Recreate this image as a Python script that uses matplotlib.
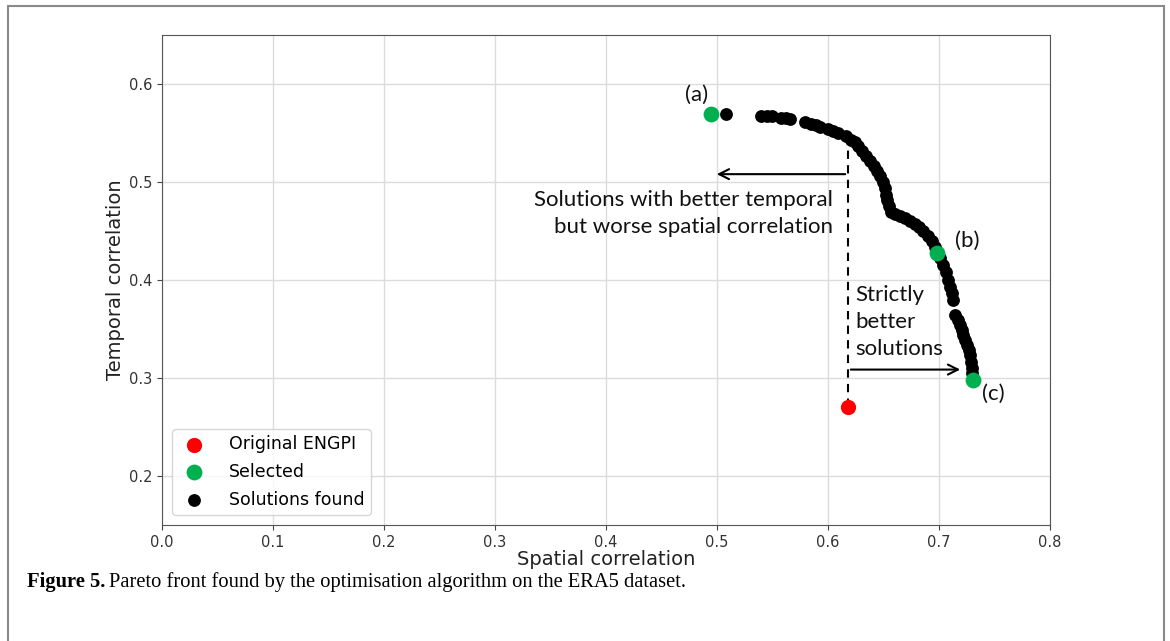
import matplotlib
matplotlib.use("Agg")
import matplotlib.pyplot as plt
from matplotlib.patches import Rectangle

# Data
front_x = [0.508, 0.5396, 0.545, 0.5495, 0.5577, 0.562, 0.5658, 0.579, 0.585, 0.589,
           0.593, 0.600, 0.6045, 0.609, 0.616, 0.621, 0.624, 0.627, 0.6306, 0.6342,
           0.6378, 0.6414, 0.6441, 0.6468, 0.6495, 0.6514, 0.6523, 0.6532, 0.655, 0.6568,
           0.6604, 0.6649, 0.6694, 0.6739, 0.6784, 0.682, 0.6856, 0.6901, 0.6937, 0.6964,
           0.7009, 0.7036, 0.7063, 0.7081, 0.7099, 0.7117, 0.7126, 0.7144, 0.7171, 0.7189,
           0.7207, 0.7216, 0.7234, 0.7252, 0.727, 0.7279, 0.7288, 0.7297, 0.7297]
front_y = [0.5695, 0.5678, 0.5675, 0.5672, 0.5655, 0.565, 0.5645, 0.5614, 0.559, 0.558,
           0.556, 0.554, 0.552, 0.550, 0.547, 0.543, 0.541, 0.537, 0.532, 0.5269,
           0.5218, 0.5168, 0.5117, 0.5066, 0.5005, 0.4934, 0.4863, 0.4812, 0.4751, 0.469,
           0.467, 0.465, 0.4629, 0.4599, 0.4569, 0.4538, 0.4497, 0.4447, 0.4396, 0.4335,
           0.4223, 0.4152, 0.4081, 0.4, 0.3929, 0.3868, 0.3797, 0.3645, 0.3594, 0.3543,
           0.3492, 0.3442, 0.3391, 0.334, 0.3289, 0.3239, 0.3168, 0.3107, 0.3046]
original_x = [0.618]
original_y = [0.270]
selected_x = [0.4946, 0.698, 0.7306]
selected_y = [0.5695, 0.4274, 0.2975]
selected_labels = ["(a)", "(b)", "(c)"]
legend_labels = ["Original ENGPI", "Selected", "Solutions found"]
xticks = [0.0, 0.1, 0.2, 0.3, 0.4, 0.5, 0.6, 0.7, 0.8]
yticks = [0.2, 0.3, 0.4, 0.5, 0.6]

W, H = 1170, 641
fig = plt.figure(figsize=(W / 100, H / 100), dpi=100)
fig.patches.append(Rectangle((8 / W, -0.01), (1164 - 8) / W, 1 - 6 / H + 0.01,
                             transform=fig.transFigure, fill=False,
                             edgecolor="#8a8a8a", lw=1.5))

ax = fig.add_axes([162 / W, 1 - 525 / H, (1050 - 162) / W, (525 - 35) / H])
ax.set_xlim(0.0, 0.8)
ax.set_ylim(0.15, 0.65)
ax.set_xticks(xticks)
ax.set_yticks(yticks)
ax.set_xticklabels([f"{v:.1f}" for v in xticks])
ax.set_yticklabels([f"{v:.1f}" for v in yticks])
ax.grid(True, color="#dcdcdc", lw=1.0)
ax.set_axisbelow(True)
ax.tick_params(labelsize=10.5, colors="#444444", labelcolor="#333333")
for s in ax.spines.values():
    s.set_color("#555555")

ax.scatter(original_x, original_y, s=120, color="#ff0000", zorder=3, label=legend_labels[0], linewidths=0)
ax.scatter(selected_x, selected_y, s=130, color="#00b050", zorder=4, label=legend_labels[1], linewidths=0)
ax.scatter(front_x, front_y, s=85, color="black", zorder=3, label=legend_labels[2], linewidths=0)

ax.set_xlabel("Spatial correlation", fontsize=14, color="#222222", labelpad=0)
ax.set_ylabel("Temporal correlation", fontsize=14, color="#222222", labelpad=3)

leg = ax.legend(loc="lower left", fontsize=12.5, handletextpad=1.1, borderpad=0.35,
                labelspacing=0.55, borderaxespad=0.6, frameon=True, scatterpoints=1,
                handlelength=1.8)
leg.get_frame().set_edgecolor("#cccccc")

# annotations
tfont = dict(family=["Lato", "DejaVu Sans"], fontsize=16, color="#111111")
ax.plot([0.618, 0.618], [0.547, 0.270], ls=(0, (4, 3)), color="black", lw=1.5, zorder=2)
ax.annotate("", xy=(0.4973, 0.508), xytext=(0.618, 0.508),
            arrowprops=dict(arrowstyle="->", color="black", lw=1.5, mutation_scale=18))
ax.annotate("", xy=(0.7216, 0.3086), xytext=(0.618, 0.3086),
            arrowprops=dict(arrowstyle="->", color="black", lw=1.5, mutation_scale=18))
ax.text(0.6045, 0.468, "Solutions with better temporal\nbut worse spatial correlation",
        ha="right", va="center", linespacing=1.45, **tfont)
ax.text(0.625, 0.357, "Strictly\nbetter\nsolutions", ha="left", va="center",
        linespacing=1.45, **tfont)
lab_pos = [(0.482, 0.5888), (0.725, 0.44), (0.749, 0.2843)]
for (lx, ly), t in zip(lab_pos, selected_labels):
    ax.text(lx, ly, t, ha="center", va="center", **tfont)

# caption: bold prefix + regular text
cap_y = 1 - 582 / H
t1 = fig.text(27 / W, cap_y, "Figure 5.", fontsize=14.8, va="center", ha="left",
              family="Liberation Serif", weight="bold")
fig.canvas.draw()
bb = t1.get_window_extent()
fig.text((bb.x1 + 4) / W, cap_y,
         "Pareto front found by the optimisation algorithm on the ERA5 dataset.",
         fontsize=14.8, va="center", ha="left", family="Liberation Serif")

fig.savefig("out.png", dpi=100)
